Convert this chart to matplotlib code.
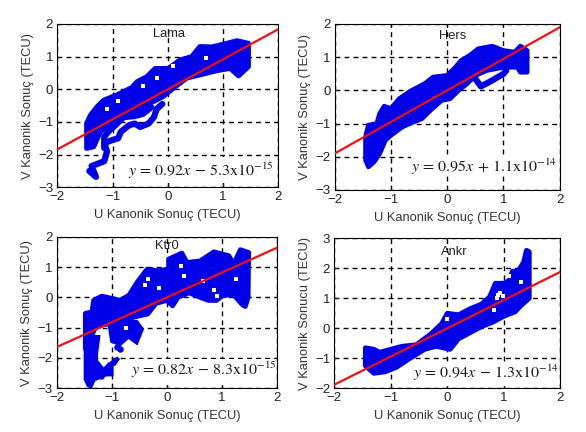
#!/usr/bin/env python3
"""
Canonical result scatter for four stations
"""

import numpy as np
import matplotlib
matplotlib.use("Agg")
import matplotlib.pyplot as plt
from matplotlib.patches import Rectangle

W, H = 586, 432
BLUE = "#0000e8"

plt.rcParams["font.family"] = ["Liberation Sans", "DejaVu Sans"]
plt.rcParams["mathtext.fontset"] = "stix"

# Lama
lama_up_x = [-1.47, -1.40, -1.28, -1.16, -0.92, -0.65, -0.56, -0.38, -0.23, 0.01, 0.22, 0.43, 0.58, 0.8, 1.07, 1.25, 1.46]
lama_up_y = [-1.04, -0.79, -0.53, -0.33, -0.17, 0.06, 0.23, 0.39, 0.64, 0.64, 0.9, 1.0, 1.31, 1.3, 1.41, 1.49, 1.41]
lama_lo_x = [-1.47, -1.34, -1.22, -0.98, -0.62, -0.32, -0.08, 0.1, 0.34, 0.58, 0.89, 1.13, 1.28, 1.46]
lama_lo_y = [-1.81, -1.76, -1.3, -0.99, -0.73, -0.43, -0.22, 0.03, 0.34, 0.44, 0.57, 0.64, 0.41, 0.69]
lama_trace_x = [-1.42, -1.3, -1.38, -1.3, -1.15, -1.1, -1.15, -1.0, -0.9, -0.85, -0.7, -0.6, -0.5, -0.35, -0.25, -0.2, -0.1]
lama_trace_y = [-2.5, -2.68, -2.35, -2.3, -2.2, -1.9, -1.65, -1.55, -1.5, -1.3, -1.1, -1.05, -1.15, -1.05, -0.85, -0.6, -0.45]
lama_trace2_x = [-1.15, -1.15, -1.05, -0.95, -0.8, -0.6, -0.45, -0.3]
lama_trace2_y = [-1.8, -1.45, -1.25, -1.1, -0.85, -0.82, -0.75, -0.55]
lama_gap_x = [-0.45, -1.1, 0.1, 0.7, -0.2, -0.9]
lama_gap_y = [0.1, -0.6, 0.7, 0.95, 0.35, -0.35]

# Hers
hers_up_x = [-1.45, -1.4, -1.25, -1.2, -1.12, -1.0, -0.85, -0.65, -0.4, -0.25, 0, 0.15, 0.25, 0.4, 0.55, 0.8, 1.0, 1.2, 1.3, 1.42]
hers_up_y = [-1.4, -1.05, -1.0, -0.7, -0.48, -0.55, -0.25, -0.02, 0.2, 0.4, 0.45, 0.7, 0.9, 1.05, 1.25, 1.33, 1.2, 1.15, 1.33, 1.2]
hers_lo_x = [-1.45, -1.4, -1.3, -1.2, -1.1, -1, -0.8, -0.6, -0.45, -0.3, -0.1, 0.05, 0.2, 0.35, 0.5, 0.7, 1.0, 1.25, 1.3, 1.42]
hers_lo_y = [-2.1, -2.3, -2.15, -1.9, -1.5, -1.35, -1.1, -0.95, -0.85, -0.6, -0.3, -0.25, 0.0, 0.2, 0.45, 0.6, 0.7, 0.7, 0.55, 0.55]
hers_trace_x = [0.5, 0.6, 0.8, 1.0, 1.05]
hers_trace_y = [0.35, 0.12, 0.3, 0.5, 0.6]

# Ktr0
ktr_up_x = [-1.48, -1.36, -1.33, -1.18, -0.85, -0.69, -0.54, -0.36, -0.18, 0.03, 0.03, 0.27, 0.36, 0.6, 0.85, 1.12, 1.21, 1.33, 1.48]
ktr_up_y = [-0.53, -0.48, -0.1, 0.04, -0.1, 0.07, 0.5, 0.93, 0.88, 0.93, 1.26, 1.46, 1.15, 1.2, 1.5, 1.37, 1.1, 1.57, 1.48]
ktr_lo_x = [-1.48, -1.3, -1.15, -0.9, -0.6, -0.35, -0.2, 0, 0.1, 0.2, 0.4, 0.6, 0.75, 0.9, 1, 1.2, 1.37, 1.42, 1.47]
ktr_lo_y = [-1.7, -1.0, -0.9, -0.85, -0.65, -0.55, -0.2, -0.1, -0.28, 0, 0.15, 0, -0.1, -0.1, 0.05, 0.1, -0.25, -0.3, 0]
ktr_col_x = [-1.48, -1.24, -1.28, -1.3, -1.38, -1.43, -1.48]
ktr_col_y = [-1.3, -1.3, -1.85, -2.6, -2.95, -2.9, -2.7]
ktr_bot_x = [-1.3, -1.15, -1.05, -0.95, -0.88, -1.0, -1.0, -1.1, -1.3]
ktr_bot_y = [-2.05, -2.4, -2.2, -2.2, -2.0, -2.15, -2.55, -2.55, -2.7]
ktr_blob_x = [-1.05, -0.8, -0.55, -0.45, -0.55, -0.7, -0.85, -1.0]
ktr_blob_y = [-0.85, -0.8, -0.8, -1.05, -1.5, -1.3, -1.55, -1.45]
ktr_dot_x = [-0.9, -0.85, -1.2]
ktr_dot_y = [-1.65, -1.72, -2.6]
ktr_gap_x = [-0.4, -0.35, 0.9, 0.85, 0.65, -0.15, 0.25, 0.3, 1.25, -0.75]
ktr_gap_y = [0.4, 0.6, 0.05, 0.25, 0.55, 0.3, 1.05, 0.7, 0.6, -1.0]

# Ankr
ankr_up_x = [-1.45, -1.3, -1.2, -1.0, -0.8, -0.55, -0.3, -0.1, 0, 0.2, 0.4, 0.6, 0.75, 0.85, 1.0, 1.1, 1.15, 1.25, 1.35, 1.4, 1.45]
ankr_up_y = [-0.65, -0.7, -0.8, -0.7, -0.6, -0.55, -0.2, 0.15, 0.5, 0.45, 0.65, 0.8, 1.05, 1.5, 1.5, 1.6, 1.9, 1.9, 2.2, 2.6, 2.55]
ankr_lo_x = [-1.45, -1.3, -1.1, -0.9, -0.7, -0.4, -0.2, 0.05, 0.2, 0.4, 0.6, 0.8, 1.0, 1.2, 1.3, 1.45]
ankr_lo_y = [-1.25, -1.5, -1.45, -1.3, -1.05, -0.7, -0.6, -0.7, -0.35, -0.15, 0.05, 0.2, 0.4, 0.55, 0.75, 1.0]
ankr_gap_x = [0.9, 0.94, 0.88, 0.98, 1.3, 0.82, 1.1, 0.0]
ankr_gap_y = [1.1, 1.18, 1.02, 1.08, 1.55, 0.62, 1.75, 0.3]

# fit lines
fit_x = [-2, 2]
lama_fit_y = [-1.84, 1.84]
hers_fit_y = [-1.9, 1.9]
ktr_fit_y = [-1.64, 1.64]
ankr_fit_y = [-1.88, 1.88]

ticks_x = [-2, -1, 0, 1, 2]
xlabel = "U Kanonik Sonuç (TECU)"


def make_axes(left, top, right, bottom):
    return plt.axes([left / W, 1 - bottom / H, (right - left) / W, (bottom - top) / H])


def draw_panel(ax, name, title_xy, up, lo, fit_y, eq, eq_xy, box, ylim, ylabel, gaps=None):
    ax.set_xlim(-2, 2)
    ax.set_ylim(*ylim)
    ax.set_xticks(ticks_x)
    ax.set_yticks(range(ylim[0], ylim[1] + 1))
    ax.grid(True, color="k", ls=(0, (3.5, 3)), lw=1)
    ax.set_axisbelow(True)
    ax.tick_params(direction="in", length=2, width=0.8, labelsize=9.5, colors="#222222", pad=3)
    ax.set_xlabel(xlabel, fontsize=9.3, color="#333333", labelpad=4)
    ax.set_ylabel(ylabel, fontsize=9.3, color="#333333", labelpad=3)

    ax.fill(np.r_[up[0], lo[0][::-1]], np.r_[up[1], lo[1][::-1]],
            color=BLUE, lw=3.5, joinstyle="round", zorder=3)
    if gaps is not None:
        ax.scatter(gaps[0], gaps[1], s=7, color="white", marker="s", lw=0, zorder=4)
    ax.plot(fit_x, fit_y, color="#f01010", lw=1.6, zorder=6)
    ax.text(title_xy[0], title_xy[1], name, fontsize=9.3, color="#222222",
            ha="center", va="center", zorder=7)
    ax.add_patch(Rectangle((box[0], box[1]), box[2] - box[0], box[3] - box[1],
                           color="white", lw=0, zorder=5))
    ax.text(eq_xy[0], eq_xy[1], eq, fontsize=11.5, color="#1a1a1a",
            ha="left", va="center", zorder=7)


def thick(ax, xs, ys, lw=4.5):
    ax.plot(xs, ys, color=BLUE, lw=lw, solid_capstyle="round", solid_joinstyle="round", zorder=3)


def main():
    fig = plt.figure(figsize=(W / 100, H / 100), dpi=100, facecolor="white")

    ax1 = make_axes(57.3, 24, 278.3, 187.3)
    draw_panel(ax1, "Lama", (0.03, 1.7), (lama_up_x, lama_up_y), (lama_lo_x, lama_lo_y),
               lama_fit_y, r"$y\,=\,0.92x\,-\,5.3\mathrm{x}10^{-15}$", (-0.72, -2.5),
               (-0.75, -2.88, 1.97, -2.07), (-3, 2), "V Kanonik Sonuç (TECU)",
               (lama_gap_x, lama_gap_y))
    thick(ax1, lama_trace_x, lama_trace_y)
    thick(ax1, lama_trace2_x, lama_trace2_y)

    ax2 = make_axes(334.7, 24, 559.7, 190)
    draw_panel(ax2, "Hers", (0.1, 1.65), (hers_up_x, hers_up_y), (hers_lo_x, hers_lo_y),
               hers_fit_y, r"$y\,=\,0.95x\,+\,1.1\mathrm{x}10^{-14}$", (-0.65, -2.3),
               (-0.65, -2.5, 1.97, -1.97), (-3, 2), "V Kanonik Sonuç (TECU)")
    thick(ax2, hers_trace_x, hers_trace_y)

    ax3 = make_axes(56.7, 236.7, 277.3, 388.3)
    draw_panel(ax3, "Ktr0", (0.0, 1.68), (ktr_up_x, ktr_up_y), (ktr_lo_x, ktr_lo_y),
               ktr_fit_y, r"$y\,=\,0.82x\,-\,8.3\mathrm{x}10^{-15}$", (-0.65, -2.4),
               (-0.7, -2.9, 1.97, -2.05), (-3, 2), "V Kanonik Sonuç (TECU)",
               (ktr_gap_x, ktr_gap_y))
    for xs, ys in [(ktr_col_x, ktr_col_y), (ktr_bot_x, ktr_bot_y), (ktr_blob_x, ktr_blob_y)]:
        ax3.fill(xs, ys, color=BLUE, lw=2.5, zorder=3)
    ax3.scatter(ktr_dot_x, ktr_dot_y, s=22, color=BLUE, lw=0, zorder=3)

    ax4 = make_axes(334.3, 238.3, 560.3, 388.3)
    draw_panel(ax4, "Ankr", (0.13, 2.55), (ankr_up_x, ankr_up_y), (ankr_lo_x, ankr_lo_y),
               ankr_fit_y, r"$y\,=\,0.94x\,-\,1.3\mathrm{x}10^{-14}$", (-0.6, -1.5),
               (-0.6, -1.93, 1.92, -1.12), (-2, 3), "V Kanonik Sonucu (TECU)",
               (ankr_gap_x, ankr_gap_y))

    fig.savefig("out.png", dpi=100)


if __name__ == "__main__":
    main()
